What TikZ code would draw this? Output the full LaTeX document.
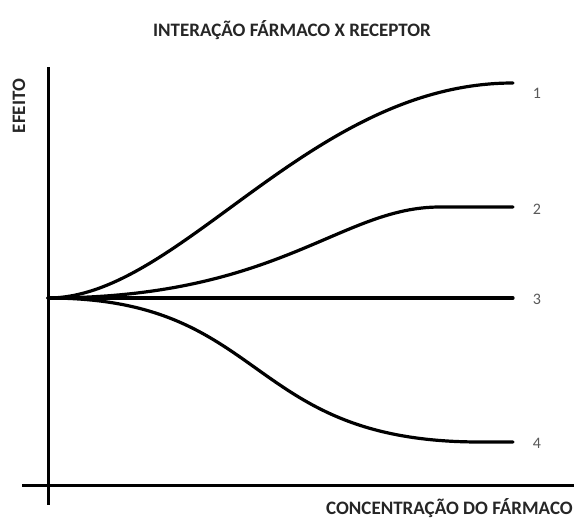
\documentclass[tikz,border=0pt]{standalone}
\usepackage{fontspec}
\setmainfont{Carlito}
\begin{document}
\begin{tikzpicture}[x=1pt,y=-1pt,
  axis/.style={line width=3pt,black},
  curve/.style={line width=3.2pt,black,line cap=round},
  lbl/.style={font=\fontsize{19}{19}\selectfont\bfseries,text=black!85,inner sep=0pt},
  num/.style={font=\fontsize{16}{16}\selectfont,text=black!65,inner sep=0pt}]
\useasboundingbox (0,0) rectangle (576,525);
\fill[white] (0,0) rectangle (576,525);
% axes
\coordinate (ytop) at (48,67);
\coordinate (ybot) at (48,505);
\coordinate (xl) at (22,485);
\coordinate (xr) at (574,485);
\draw[axis] (ytop) -- (ybot);
\draw[axis] (xl) -- (xr);
% origin and ends
\coordinate (o) at (48,298);
\coordinate (e1) at (513,83);
\coordinate (e2) at (513,207);
\coordinate (p2) at (440,207);
\coordinate (e3) at (513,298);
\coordinate (e4) at (513,442);
\coordinate (p4) at (480,442);
% curves
\draw[curve] (o) .. controls (180,298) and (310,83) .. (e1);
\draw[curve] (o) .. controls (280,298) and (340,207) .. (p2) -- (e2);
\draw[curve] (o) -- (e3);
\draw[curve] (o) .. controls (270,298) and (243,442) .. (p4) -- (e4);
% labels
\node[num] (n1) at (537,93) {1};
\node[num] (n2) at (537,209) {2};
\node[num] (n3) at (537,299) {3};
\node[num] (n4) at (537,443) {4};
\node[lbl] (title) at (292,30) {INTERAÇÃO FÁRMACO X RECEPTOR};
\node[lbl,anchor=east] (xlab) at (573,508) {CONCENTRAÇÃO DO FÁRMACO};
\node[lbl,rotate=90] (ylab) at (19,106) {EFEITO};
\end{tikzpicture}
\end{document}
